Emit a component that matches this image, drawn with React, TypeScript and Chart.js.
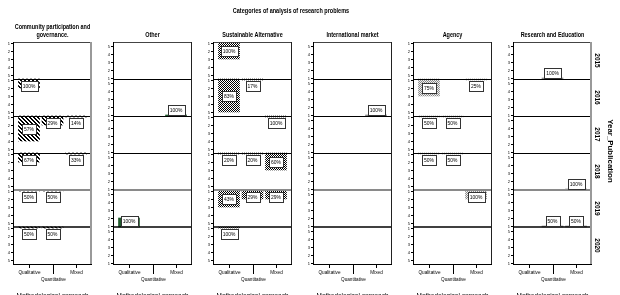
import React, { useEffect, useRef } from 'react';
import { Chart, registerables } from 'chart.js';

Chart.register(...registerables);

const chartTitle = 'Categories of analysis of research problems';
const panelTitles: string[][] = [
  ['Community participation and', 'governance.'],
  ['Other'],
  ['Sustainable Alternative'],
  ['International market'],
  ['Agency'],
  ['Research and Education'],
];
const years = ['2015', '2016', '2017', '2018', '2019', '2020'];
const methods = ['Qualitative', 'Quantitative', 'Mixed'];
const yAxisTitle = 'Year_Publication';
const xAxisTitle = 'Methodological approach';
const tickLabels = ['1', '2', '3', '4', '5'];

// counts per year row: [Qualitative, Quantitative, Mixed]
const communityCounts = [[0, 0, 0], [2, 0, 0], [4, 2, 1], [2, 0, 1], [1, 1, 0], [1, 1, 0]];
const otherCounts = [[0, 0, 0], [0, 0, 1], [0, 0, 0], [0, 0, 0], [2, 0, 0], [0, 0, 0]];
const sustainableCounts = [[3, 0, 0], [5, 1, 0], [0, 0, 1], [1, 1, 3], [3, 2, 2], [1, 0, 0]];
const internationalCounts = [[0, 0, 0], [0, 0, 1], [0, 0, 0], [0, 0, 0], [0, 0, 0], [0, 0, 0]];
const agencyCounts = [[0, 0, 0], [3, 0, 1], [1, 1, 0], [1, 1, 0], [0, 0, 2], [0, 0, 0]];
const researchCounts = [[0, 1, 0], [0, 0, 0], [0, 0, 0], [0, 0, 1], [0, 1, 1], [0, 0, 0]];

const panelCounts = [communityCounts, otherCounts, sustainableCounts, internationalCounts, agencyCounts, researchCounts];
const panelReversed = [true, false, true, false, true, false];
const panelFill = ['hatch', 'green', 'checker', 'gray', 'dots', 'gray'];

const ROW = 37 / 8; // units per facet row (8px per unit)
const ONE = 0.125; // position of value "1" inside a row

function makePattern(kind: string): any {
  if (kind === 'green') return '#1f5b2c';
  if (kind === 'gray') return '#888888';
  const c = document.createElement('canvas');
  const n = kind === 'hatch' ? 4 : 2;
  c.width = n; c.height = n;
  const g = c.getContext('2d')!;
  if (kind === 'hatch') {
    g.fillStyle = '#ffffff'; g.fillRect(0, 0, n, n);
    g.fillStyle = '#000000';
    for (let i = 0; i < n; i++) { g.fillRect(i, i, 1, 1); g.fillRect((i + 1) % n, i, 1, 1); }
  } else if (kind === 'checker') {
    g.fillStyle = '#ffffff'; g.fillRect(0, 0, n, n);
    g.fillStyle = '#000000'; g.fillRect(0, 0, 1, 1); g.fillRect(1, 1, 1, 1);
  } else {
    g.fillStyle = '#eeeeee'; g.fillRect(0, 0, n, n);
    g.fillStyle = '#888888'; g.fillRect(0, 0, 1, 1); g.fillRect(1, 1, 1, 1);
  }
  return g.createPattern(c, 'repeat');
}

function drawScaledText(ctx: any, text: string, x: number, y: number, font: string, sx: number, align: string) {
  ctx.save();
  ctx.translate(x, y);
  ctx.scale(sx, 1);
  ctx.font = font;
  ctx.textAlign = align;
  ctx.textBaseline = 'middle';
  ctx.fillText(text, 0, 0);
  ctx.restore();
}

const facetPlugin = {
  id: 'facet',
  afterDatasetsDraw(chart: any, _args: any, opts: any) {
    const { ctx, chartArea: a, scales } = chart;
    const x = scales.x, y = scales.y;
    const idx: number = opts.index;
    const rev: boolean = opts.reversed;
    const last = idx === 5;
    ctx.save();
    ctx.lineCap = 'butt';
    // row separators
    for (let i = 1; i < 6; i++) {
      const v = rev ? i * ROW : (6 - i) * ROW;
      const py = Math.round(y.getPixelForValue(v));
      ctx.beginPath();
      if (i === 4) { ctx.strokeStyle = '#8a8a8a'; ctx.lineWidth = 2; ctx.moveTo(a.left, py); ctx.lineTo(a.right, py); }
      else if (i === 5) { ctx.strokeStyle = '#000'; ctx.lineWidth = 1.5; ctx.moveTo(a.left, py); ctx.lineTo(a.right, py); }
      else { ctx.strokeStyle = '#000'; ctx.lineWidth = 1; ctx.moveTo(a.left, py + 0.5); ctx.lineTo(a.right, py + 0.5); }
      ctx.stroke();
    }
    // frame
    ctx.lineWidth = 1;
    ctx.strokeStyle = '#444';
    ctx.beginPath(); ctx.moveTo(a.left, Math.round(a.top) + 0.5); ctx.lineTo(a.right, Math.round(a.top) + 0.5); ctx.stroke();
    if (idx === 0 || last) { ctx.strokeStyle = '#999'; ctx.lineWidth = 2; ctx.beginPath(); ctx.moveTo(a.right - 1, a.top); ctx.lineTo(a.right - 1, a.bottom); ctx.stroke(); }
    else { ctx.strokeStyle = '#222'; ctx.lineWidth = 1; ctx.beginPath(); ctx.moveTo(a.right - 0.5, a.top); ctx.lineTo(a.right - 0.5, a.bottom); ctx.stroke(); }
    ctx.strokeStyle = '#000'; ctx.lineWidth = 1;
    ctx.beginPath(); ctx.moveTo(a.left + 0.5, a.top); ctx.lineTo(a.left + 0.5, a.bottom); ctx.stroke();
    ctx.beginPath(); ctx.moveTo(a.left, Math.round(a.bottom) + 0.5); ctx.lineTo(a.right, Math.round(a.bottom) + 0.5); ctx.stroke();
    // y ticks per row
    ctx.fillStyle = '#000';
    for (let i = 0; i < 6; i++) {
      tickLabels.forEach((t, k) => {
        const v = rev ? i * ROW + ONE + k : (5 - i) * ROW + ONE + k;
        const py = Math.round(y.getPixelForValue(v)) + 0.5;
        ctx.beginPath(); ctx.moveTo(a.left - 2, py); ctx.lineTo(a.left, py); ctx.stroke();
        drawScaledText(ctx, t, a.left - 3, py, '4px "Liberation Sans", Arial, sans-serif', 1, 'right');
      });
    }
    // x ticks
    methods.forEach((m, j) => {
      const px = Math.round(x.getPixelForValue(j)) + 0.5;
      const len = j === 1 ? 10 : 4;
      ctx.beginPath(); ctx.moveTo(px, a.bottom); ctx.lineTo(px, a.bottom + len); ctx.stroke();
      drawScaledText(ctx, m, px, a.bottom + len + (j === 1 ? 5 : 4), '5.5px "Liberation Sans", Arial, sans-serif', 0.85, 'center');
    });
    // panel title
    const cx = (a.left + a.right) / 2;
    const lines: string[] = opts.title;
    lines.forEach((l, k) => {
      const ty = lines.length === 1 ? 35 : 27 + k * 8;
      drawScaledText(ctx, l, cx, ty, 'bold 7px "Liberation Sans", Arial, sans-serif', 0.78, 'center');
    });
    // bottom axis title (cut off by page edge)
    drawScaledText(ctx, xAxisTitle, cx, 296, '7px "Liberation Sans", Arial, sans-serif', 0.92, 'center');
    // right-side year labels
    if (last) {
      for (let i = 0; i < 6; i++) {
        const v0 = (6 - i) * ROW, v1 = (5 - i) * ROW;
        const cy = (y.getPixelForValue(v0) + y.getPixelForValue(v1)) / 2;
        ctx.save(); ctx.translate(a.right + 5, cy); ctx.rotate(Math.PI / 2);
        drawScaledText(ctx, years[i], 0, 0, 'bold 6.5px "Liberation Sans", Arial, sans-serif', 1, 'center');
        ctx.restore();
      }
      ctx.save(); ctx.translate(a.right + 18, (a.top + a.bottom) / 2 - 2); ctx.rotate(Math.PI / 2);
      drawScaledText(ctx, yAxisTitle, 0, 0, 'bold 7.5px "Liberation Sans", Arial, sans-serif', 1.05, 'center');
      ctx.restore();
    }
    // value labels
    const meta = chart.getDatasetMeta(0);
    const data = chart.data.datasets[0].data;
    ctx.font = '5.5px "Liberation Sans", Arial, sans-serif';
    meta.data.forEach((el: any, k: number) => {
      const txt: string = data[k].pct;
      const w = ctx.measureText(txt).width * 0.9 + 4;
      const h = 10;
      const center = (el.y + el.base) / 2;
      let cy: number;
      if (rev) cy = Math.max(center, el.base + 1.5 + h / 2);
      else cy = Math.min(center, el.base - 1.5 - h / 2);
      const bx = Math.round(el.x - w / 2) + 0.5, by = Math.round(cy - h / 2) + 0.5;
      ctx.fillStyle = '#fff';
      ctx.fillRect(bx, by, Math.round(w), h);
      ctx.strokeStyle = '#333'; ctx.lineWidth = 1;
      ctx.strokeRect(bx, by, Math.round(w), h);
      ctx.fillStyle = '#000';
      drawScaledText(ctx, txt, el.x, by + h / 2, '5.5px "Liberation Sans", Arial, sans-serif', 0.9, 'center');
    });
    ctx.restore();
  },
};

function Panel({ index }: { index: number }) {
  const ref = useRef<HTMLCanvasElement>(null);
  useEffect(() => {
    const counts = panelCounts[index];
    const rev = panelReversed[index];
    const points: any[] = [];
    counts.forEach((row, i) => {
      const total = row.reduce((s, v) => s + v, 0);
      row.forEach((cnt, j) => {
        if (!cnt) return;
        const base = rev ? i * ROW : (5 - i) * ROW;
        points.push({ x: j, y: [base, base + ONE + (cnt - 1)], pct: Math.round((cnt / total) * 100) + '%' });
      });
    });
    const last = index === 5;
    const chart = new Chart(ref.current!, {
      type: 'bar',
      data: {
        datasets: [{
          data: points,
          backgroundColor: makePattern(panelFill[index]),
          borderWidth: 0,
          barThickness: 21,
        }],
      },
      options: {
        animation: false,
        responsive: false,
        events: [],
        layout: { padding: { left: 13, right: last ? 28 : 8, top: 42, bottom: 31 } },
        scales: {
          x: { type: 'linear', min: -0.68, max: 2.68, offset: false, bounds: 'ticks', grid: { offset: false }, display: false },
          y: { type: 'linear', min: 0, max: 6 * ROW, reverse: rev, display: false },
        },
        plugins: {
          legend: { display: false },
          tooltip: { enabled: false },
          facet: { index, reversed: rev, title: panelTitles[index] },
        } as any,
      },
      plugins: [facetPlugin],
    });
    return () => chart.destroy();
  }, [index]);
  const w = index === 5 ? 120 : 100;
  return (
    <canvas ref={ref} width={w} height={295}
      style={{ position: 'absolute', left: index * 100, top: 0, width: w, height: 295 }} />
  );
}

export default function App() {
  return (
    <div style={{ position: 'fixed', left: 0, top: 0, width: 620, height: 295, background: '#fff', overflow: 'hidden' }}>
      {panelTitles.map((_, i) => <Panel key={i} index={i} />)}
      <div style={{
        position: 'absolute', left: 141, width: 300, top: 7, textAlign: 'center',
        font: 'bold 6.5px "Liberation Sans", Arial, sans-serif', color: '#000', lineHeight: '7px',
        transform: 'scaleX(0.85)', transformOrigin: '150px 0', zIndex: 2,
      }}>{chartTitle}</div>
    </div>
  );
}
